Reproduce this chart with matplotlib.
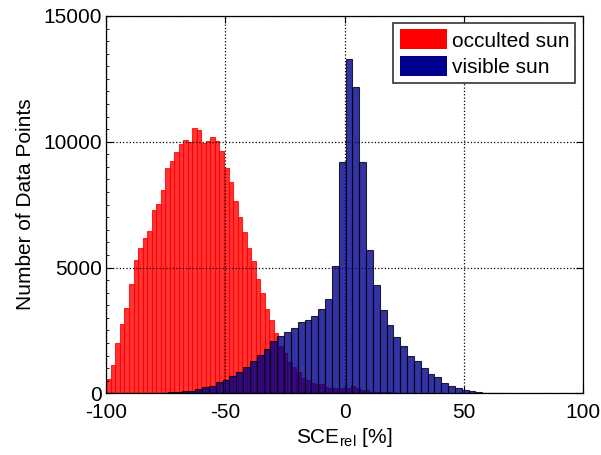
import numpy as np
from matplotlib import pyplot as plt
from matplotlib.patches import Patch

plt.rcParams['font.family'] = ['Liberation Sans', 'DejaVu Sans']
plt.rcParams['font.size'] = 15
plt.rcParams['axes.unicode_minus'] = False

# occulted sun: bins of width 1.9 starting at -100
occ_start = -100.0
occ_width = 1.9
occ_counts = [557, 1126, 2000, 2757, 3381, 4360, 5290, 5792, 6190, 6468,
              7292, 7543, 8099, 8975, 9241, 9611, 9917, 10049, 9997, 10554,
              10446, 9957, 10010, 10180, 10020, 9639, 8951, 8418, 7638, 7026,
              6417, 5780, 5251, 4535, 4002, 3365, 2928, 2411, 1894, 1591,
              1233, 1034, 840, 615, 530, 420, 375, 358, 232, 225,
              198, 198, 225, 225, 278, 225, 119, 119, 66, 66,
              40, 40, 40, 26, 13, 13, 13]

# visible sun: bins of width 2.87 starting at -100
vis_start = -100.0
vis_width = 2.87
vis_counts = [0, 0, 0, 0, 0, 0, 0, 0, 15, 40,
              53, 104, 104, 165, 250, 310, 437, 530, 689, 835,
              1034, 1280, 1511, 1760, 2060, 2280, 2445, 2585, 2837, 2916,
              3063, 3354, 3739, 5052, 9175, 13287, 12157, 9175, 5689, 4297,
              3302, 2725, 2253, 1870, 1490, 1273, 995, 760, 630, 424,
              292, 199, 133, 93, 66, 26, 26, 13]

labels = ['occulted sun', 'visible sun']
red = (1.0, 0.0, 0.0)
navy = (0.0, 0.0, 0.5625)

fig = plt.figure(figsize=(6.01, 4.55), dpi=100)
ax = fig.add_axes([0.177, 0.1356, 0.7925, 0.8294])

occ_x = occ_start + occ_width * np.arange(len(occ_counts))
vis_x = vis_start + vis_width * np.arange(len(vis_counts))

ax.bar(occ_x, occ_counts, width=occ_width, align='edge', color=red,
       edgecolor=red, linewidth=0.8, alpha=0.8, zorder=2)
ax.bar(vis_x, vis_counts, width=vis_width, align='edge', color=navy,
       edgecolor='black', linewidth=0.8, alpha=0.8, zorder=3)

ax.set_xlim(-100, 100)
ax.set_ylim(0, 15000)
ax.set_xticks([-100, -50, 0, 50, 100])
ax.set_yticks([0, 5000, 10000, 15000])
ax.set_yticks(np.arange(0, 15001, 500), minor=True)
ax.tick_params(direction='in', top=True, right=True, length=5, width=0.8,
               labelsize=15)
ax.tick_params(axis='x', pad=7)
ax.tick_params(axis='y', pad=3)
ax.tick_params(which='minor', direction='in', left=True, right=False,
               length=2.5, width=0.6)
ax.grid(True, linestyle=':', color='black', linewidth=0.9)
ax.set_axisbelow(False)
for s in ax.spines.values():
    s.set_linewidth(0.9)

ax.set_xlabel('SCE$_\\mathregular{rel}$ [%]', fontsize=15, labelpad=3)
ax.set_ylabel('Number of Data Points', fontsize=15, labelpad=6)

handles = [Patch(facecolor=red, edgecolor='none'),
           Patch(facecolor=navy, edgecolor='none')]
leg = ax.legend(handles, labels, loc='upper right', fontsize=15,
                fancybox=False, framealpha=1, edgecolor='#333333',
                handlelength=2.3, handleheight=1.1, handletextpad=0.2,
                borderaxespad=0.35, borderpad=0.3, labelspacing=0.25)
leg.get_frame().set_linewidth(1.2)
leg.set_zorder(5)

fig.savefig('out.png', dpi=100)
